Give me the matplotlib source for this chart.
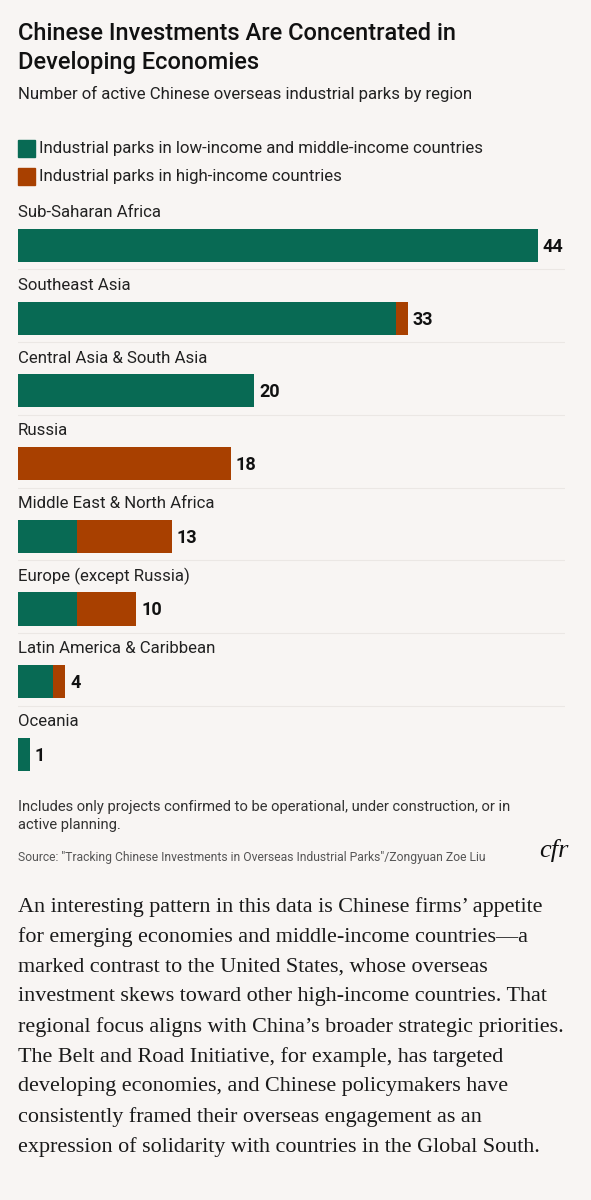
import matplotlib
matplotlib.use("Agg")
import matplotlib.pyplot as plt
from matplotlib.patches import Rectangle

# data
regions = ["Sub-Saharan Africa", "Southeast Asia", "Central Asia & South Asia", "Russia",
           "Middle East & North Africa", "Europe (except Russia)",
           "Latin America & Caribbean", "Oceania"]
low_mid = [44, 32, 20, 0, 5, 5, 3, 1]
high = [0, 1, 0, 18, 8, 5, 1, 0]
totals = [a + b for a, b in zip(low_mid, high)]

title = "Chinese Investments Are Concentrated in\nDeveloping Economies"
subtitle = "Number of active Chinese overseas industrial parks by region"
legend_labels = ["Industrial parks in low-income and middle-income countries",
                 "Industrial parks in high-income countries"]
note = "Includes only projects confirmed to be operational, under construction, or in\nactive planning."
source = "Source: \"Tracking Chinese Investments in Overseas Industrial Parks\"/Zongyuan Zoe Liu"
body = [
    "An interesting pattern in this data is Chinese firms\u2019 appetite",
    "for emerging economies and middle-income countries\u2014a",
    "marked contrast to the United States, whose overseas",
    "investment skews toward other high-income countries. That",
    "regional focus aligns with China\u2019s broader strategic priorities.",
    "The Belt and Road Initiative, for example, has targeted",
    "developing economies, and Chinese policymakers have",
    "consistently framed their overseas engagement as an",
    "expression of solidarity with countries in the Global South.",
]

GREEN = "#086a54"
ORANGE = "#a84000"
BG = "#f8f5f3"
W, H = 591, 1200

plt.rcParams['font.family'] = ['Roboto', 'DejaVu Sans']

fig = plt.figure(figsize=(W / 100, H / 100), dpi=100, facecolor=BG)

def ftext(x, y, s, **kw):
    # place text in pixel coords measured from the top-left
    return fig.text(x / W, 1 - y / H, s, **kw)

# header
ftext(18, 48, title, fontsize=17, fontweight='medium', color="#111111",
      va='center', linespacing=1.3)
ftext(18, 94, subtitle, fontsize=12.1, color="#222222", va='center')

for i, (lab, col) in enumerate(zip(legend_labels, [GREEN, ORANGE])):
    yc = 148 + i * 28
    fig.patches.append(Rectangle((18 / W, 1 - (yc + 8.5) / H), 17 / W, 17 / H,
                                 transform=fig.transFigure, color=col))
    ftext(39, yc, lab, fontsize=12.2, color="#222222", va='center')

# bar axes: row spacing 72.7 px, first bar centre at 245.5 px
row = 72.7
top_px = 245.5 - 0.7 * row
bot_px = 245.5 + 7.6 * row
ax = fig.add_axes([18 / W, 1 - bot_px / H, 547 / W, (bot_px - top_px) / H])
ax.set_facecolor('none')
xmax = 44 * 547 / 520
ax.set_xlim(0, xmax)
ax.set_ylim(7.6, -0.7)
ax.axis('off')

ypos = list(range(len(regions)))
ax.barh(ypos, low_mid, height=0.455, color=GREEN, linewidth=0)
ax.barh(ypos, high, left=low_mid, height=0.455, color=ORANGE, linewidth=0)

for y, lab, t in zip(ypos, regions, totals):
    ax.text(0, y - 0.45, lab, fontsize=12.1, color="#222222", va='center', ha='left')
    ax.text(t + 0.42, y + 0.02, str(t), fontsize=13, fontweight='bold', color="#111111",
            va='center', ha='left')
    if y < len(regions) - 1:
        ax.plot([0, xmax], [y + 0.33, y + 0.33], color="#ebe7e4", lw=0.8)

# notes
ftext(18, 816, note, fontsize=10.6, color="#333333", va='center', linespacing=1.35)
ftext(18, 858, source, fontsize=8.7, color="#555555", va='center')
ftext(539, 850, "cfr", fontsize=19, family='Liberation Serif', style='italic',
      color="#111111", va='center')

# body text
for i, line in enumerate(body):
    ftext(18, 907 + i * 30, line, fontsize=15.9, family='Liberation Serif',
          color="#1a1a1a", va='center')

fig.savefig("out.png", dpi=100, facecolor=BG)
